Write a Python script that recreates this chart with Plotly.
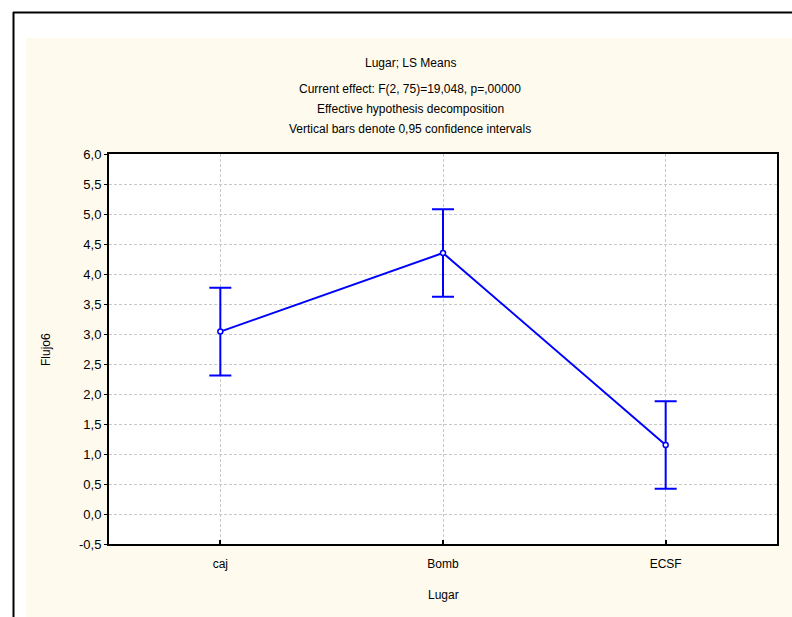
import plotly.graph_objects as go

# Data
categories = ["caj", "Bomb", "ECSF"]
means = [3.04, 4.35, 1.15]
ci_half = [0.73, 0.73, 0.73]
y_tickvals = [-0.5, 0.0, 0.5, 1.0, 1.5, 2.0, 2.5, 3.0, 3.5, 4.0, 4.5, 5.0, 5.5, 6.0]
y_ticktext = ["-0,5", "0,0", "0,5", "1,0", "1,5", "2,0", "2,5", "3,0", "3,5", "4,0", "4,5", "5,0", "5,5", "6,0"]
title_lines = [
    "Lugar; LS Means",
    "Current effect: F(2, 75)=19,048, p=,00000",
    "Effective hypothesis decomposition",
    "Vertical bars denote 0,95 confidence intervals",
]
x_title = "Lugar"
y_title = "Flujo6"

W, H = 792, 617
L, R, T, B = 109, 777, 154, 544  # plot area in pixels

def px(x):
    return (x - L) / (R - L)

def py(y):
    return (B - y) / (B - T)

FONT = "Liberation Sans, Arial, sans-serif"
CREAM = "#FFFAEE"
BLUE = "#0000FF"

fig = go.Figure()
fig.add_trace(go.Scatter(
    x=categories, y=means,
    mode="lines+markers",
    line=dict(color=BLUE, width=2),
    marker=dict(symbol="circle", size=5, color="white", line=dict(color=BLUE, width=1.5)),
    error_y=dict(type="data", array=ci_half, visible=True, color=BLUE, thickness=2, width=11),
    showlegend=False,
    cliponaxis=False,
))

shapes = [
    # white strips outside the cream panel
    dict(type="rect", xref="paper", yref="paper", x0=px(0), x1=px(W), y0=py(38), y1=py(0),
         fillcolor="white", line=dict(width=0), layer="above"),
    dict(type="rect", xref="paper", yref="paper", x0=px(0), x1=px(26), y0=py(H), y1=py(0),
         fillcolor="white", line=dict(width=0), layer="above"),
    # black frame lines
    dict(type="line", xref="paper", yref="paper", x0=px(13), x1=px(W), y0=py(12.5), y1=py(12.5),
         line=dict(color="black", width=2), layer="above"),
    dict(type="line", xref="paper", yref="paper", x0=px(13.5), x1=px(13.5), y0=py(12), y1=py(H),
         line=dict(color="black", width=2), layer="above"),
]

annotations = []
title_y = [63, 89, 109, 129]
for t, yy in zip(title_lines, title_y):
    annotations.append(dict(text=t, x=px(410), y=py(yy), xref="paper", yref="paper",
                            xanchor="center", yanchor="middle", showarrow=False,
                            font=dict(family=FONT, size=12, color="black")))
annotations.append(dict(text=x_title, x=px(443), y=py(595), xref="paper", yref="paper",
                        xanchor="center", yanchor="middle", showarrow=False,
                        font=dict(family=FONT, size=12, color="black")))
annotations.append(dict(text=y_title, x=px(46), y=py(350), xref="paper", yref="paper",
                        xanchor="center", yanchor="middle", showarrow=False, textangle=-90,
                        font=dict(family=FONT, size=12, color="black")))

fig.update_layout(
    width=W, height=H,
    margin=dict(l=L, r=W - R, t=T, b=H - B, pad=0),
    paper_bgcolor=CREAM,
    plot_bgcolor="white",
    font=dict(family=FONT, size=12, color="black"),
    shapes=shapes,
    annotations=annotations,
    xaxis=dict(
        type="category", range=[-0.5, 2.5],
        showline=True, linecolor="black", linewidth=2, mirror=True,
        ticks="inside", ticklen=4, tickcolor="black", tickwidth=1.5,
        showgrid=True, gridcolor="#C8C8C8", gridwidth=1, griddash="3px,2px",
        tickfont=dict(family=FONT, size=12, color="black"),
        ticklabelstandoff=8,
        zeroline=False, fixedrange=True,
    ),
    yaxis=dict(
        range=[-0.5, 6.0],
        tickmode="array", tickvals=y_tickvals, ticktext=y_ticktext,
        showline=True, linecolor="black", linewidth=2, mirror=True,
        ticks="outside", ticklen=3, tickcolor="black", tickwidth=1,
        showgrid=True, gridcolor="#C8C8C8", gridwidth=1, griddash="3px,2px",
        tickfont=dict(family=FONT, size=13, color="black"),
        zeroline=False, fixedrange=True,
    ),
)

fig.write_html("out.html")
